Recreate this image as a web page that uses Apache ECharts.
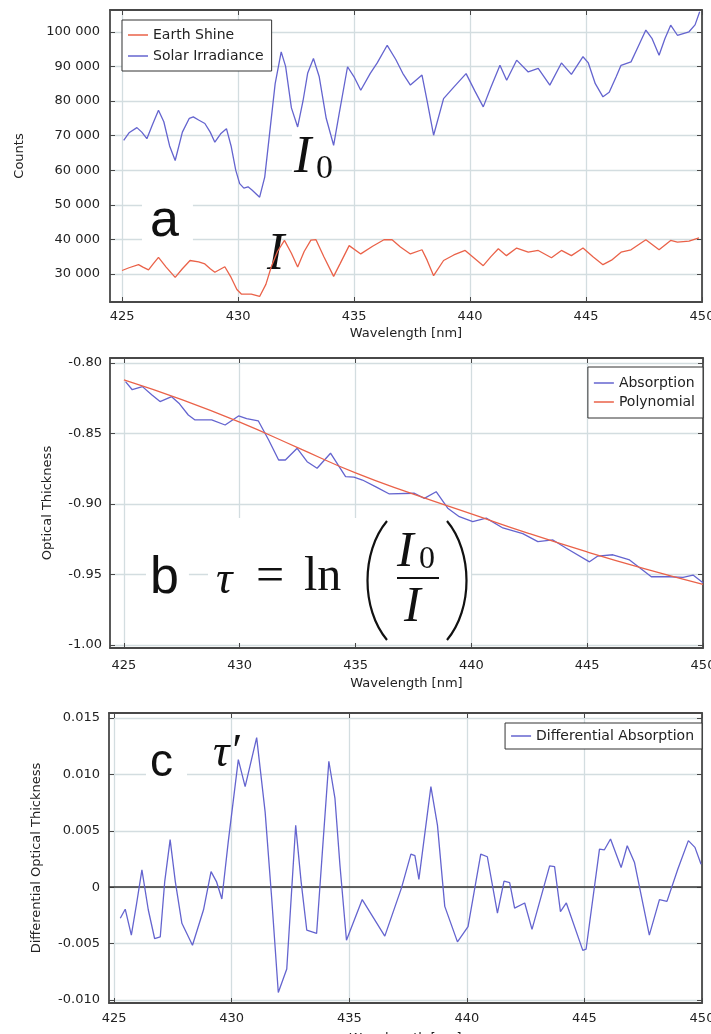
<!DOCTYPE html>
<html><head><meta charset="utf-8">
<script src="https://cdn.jsdelivr.net/npm/echarts@6/dist/echarts.min.js"></script>
<style>html,body{margin:0;padding:0;background:#fff}#c{width:711px;height:1034px}</style>
</head><body><div id="c"></div>
<script>
// ---- Panel a: counts ----
const wlSolar = [425.07,425.3,425.64,425.85,426.07,426.3,426.57,426.8,427.05,427.29,427.6,427.9,428.07,428.3,428.57,428.8,429.0,429.25,429.5,429.7,429.9,430.07,430.25,430.43,430.6,430.93,431.15,431.35,431.6,431.86,432.05,432.3,432.57,432.8,433.0,433.25,433.5,433.8,434.12,434.35,434.72,435.0,435.29,435.7,436.0,436.43,436.8,437.1,437.43,437.93,438.15,438.43,438.86,439.3,439.83,440.2,440.57,440.9,441.29,441.58,442.01,442.51,442.94,443.44,443.94,444.37,444.87,445.1,445.4,445.73,446.0,446.3,446.51,446.94,447.2,447.58,447.85,448.15,448.4,448.65,448.94,449.44,449.7,449.9];
const solar = [68600,70800,72300,71000,69100,73000,77300,74000,67000,62800,71000,75000,75400,74500,73500,71000,68100,70500,72000,67000,60000,56100,54800,55200,54300,52200,58000,70000,85000,94200,90000,78000,72500,80000,88000,92300,87000,75000,67200,76000,89900,87000,83100,88000,91000,96100,92000,88000,84600,87500,80000,70100,80700,84000,87900,83000,78300,84000,90300,86000,91800,88400,89400,84600,91000,87700,92800,91000,85000,81200,82500,87000,90300,91300,95000,100500,98000,93200,98000,101900,99000,100000,102000,105800];
const wlEarth = [425.0,425.3,425.71,425.9,426.14,426.35,426.57,426.9,427.29,427.6,427.93,428.3,428.57,428.8,429.0,429.43,429.7,429.95,430.14,430.57,430.93,431.2,431.43,431.7,432.0,432.3,432.57,432.85,433.14,433.36,433.7,434.12,434.4,434.79,435.29,435.8,436.29,436.64,437.0,437.43,437.93,438.15,438.43,438.86,439.3,439.79,440.2,440.57,440.9,441.22,441.57,442.01,442.51,442.94,443.51,443.94,444.37,444.87,445.3,445.73,446.1,446.51,446.94,447.58,448.15,448.65,448.94,449.44,449.87];
const earth = [31000,31800,32700,32000,31200,33000,34800,32000,29000,31500,33900,33500,32900,31500,30500,32100,29000,25500,24200,24200,23500,27000,32000,36500,39700,36000,32000,36500,39800,39900,35000,29300,33000,38200,35800,38000,39900,39900,37800,35800,37000,34000,29500,33900,35500,36800,34500,32400,35000,37300,35300,37500,36300,36800,34700,36800,35300,37500,35000,32700,34000,36300,37000,39900,37000,39700,39200,39500,40400];

// ---- Panel b: optical thickness ----
const wlAbs = [425.07,425.36,425.8,426.2,426.56,427.06,427.4,427.78,428.07,428.79,429.37,429.95,430.3,430.8,431.25,431.68,431.97,432.48,432.91,433.34,433.92,434.57,434.93,435.3,435.9,436.46,437.54,437.97,438.48,438.98,439.48,440.06,440.64,441.36,442.22,442.87,443.52,444.1,445.1,445.46,446.11,446.83,447.77,448.56,449.14,449.57,450.0];
const absorption = [-0.8132,-0.819,-0.8168,-0.8225,-0.8274,-0.8239,-0.829,-0.8369,-0.8404,-0.8404,-0.844,-0.8376,-0.8395,-0.841,-0.8546,-0.8688,-0.8688,-0.8605,-0.870,-0.8747,-0.864,-0.8806,-0.881,-0.883,-0.888,-0.8929,-0.8924,-0.896,-0.8913,-0.903,-0.909,-0.9125,-0.910,-0.917,-0.921,-0.9267,-0.9255,-0.9314,-0.941,-0.9369,-0.936,-0.9397,-0.9516,-0.9516,-0.952,-0.9504,-0.9558];
const wlPoly = [425,427.5,430,432.5,435,437.5,440,442.5,445,447.5,450];
const polynomial = [-0.812,-0.826,-0.842,-0.860,-0.878,-0.893,-0.907,-0.921,-0.934,-0.946,-0.957];

// ---- Panel c: differential optical thickness ----
const wlDiff = [425.26,425.47,425.73,425.95,426.18,426.45,426.72,426.96,427.15,427.38,427.6,427.88,428.33,428.8,429.12,429.35,429.58,429.85,430.28,430.57,431.06,431.42,431.7,431.98,432.34,432.72,432.95,433.19,433.61,433.85,434.13,434.39,434.6,434.88,435.55,435.95,436.51,437.22,437.62,437.79,437.96,438.47,438.75,439.06,439.6,440.05,440.59,440.87,441.3,441.58,441.82,442.03,442.46,442.77,443.52,443.73,443.98,444.23,444.93,445.07,445.64,445.85,446.11,446.56,446.82,447.13,447.76,448.19,448.51,448.97,449.42,449.7,449.96];
const differential = [-0.00275,-0.00195,-0.00425,-0.0015,0.00153,-0.002,-0.00455,-0.0044,0.0005,0.00422,0.0005,-0.0032,-0.00515,-0.002,0.00138,0.0005,-0.00105,0.004,0.01132,0.00892,0.01326,0.00668,-0.001,-0.00934,-0.00725,0.00548,0.0005,-0.0038,-0.0041,0.003,0.01117,0.00787,0.002,-0.0047,-0.0011,-0.00245,-0.00434,-0.00006,0.00293,0.0028,0.00069,0.00892,0.00548,-0.0017,-0.00485,-0.0035,0.00293,0.0027,-0.0023,0.00054,0.0004,-0.00186,-0.0014,-0.00374,0.00189,0.00183,-0.00216,-0.0014,-0.0056,-0.0055,0.00338,0.00332,0.00428,0.00174,0.00368,0.00219,-0.00425,-0.0011,-0.00126,0.00159,0.00413,0.00353,0.00204];

// ---- tick labels ----
const xTicks = [425,430,435,440,445,450];
const yTicksA = [30000,40000,50000,60000,70000,80000,90000,100000];
const yTicksB = [-1.00,-0.95,-0.90,-0.85,-0.80];
const yTicksC = [-0.010,-0.005,0,0.005,0.010,0.015];

const BLUE = '#6464cf', RED = '#ea6249', GRID = '#d3dde0', FRAME = '#484848';
const FONT = 'DejaVu Sans';
const zip = (a, b) => a.map((x, i) => [x, b[i]]);

const grids = [
  {left:110, top:10, width:592, height:292},
  {left:110, top:358, width:593, height:290},
  {left:109, top:713, width:593, height:290}
];
const xMin = [424.48, 424.4, 424.78];
const yRange = [[21900, 106300], [-1.0021, -0.7965], [-0.01027, 0.01545]];
const yTicks = [yTicksA, yTicksB, yTicksC];
const yFmt = [
  v => String(Math.round(v)).replace(/\B(?=(\d{3})+(?!\d))/g, ' '),
  v => Number(v).toFixed(2),
  v => (Math.abs(v) < 1e-9 ? '0' : Number(v).toFixed(3))
];
const yNames = ['Counts', 'Optical Thickness', 'Differential Optical Thickness'];
const yNameGap = [84, 56, 66];
const xLabelMargin = [8, 11, 9];
const xNameGap = [25, 29, 29];
const yLabelMargin = [10, 8, 9];

const txt = {color:'#222', fontSize:13, fontFamily:FONT};
const xAxis = [], yAxis = [];
for (let i = 0; i < 3; i++) {
  xAxis.push({
    type:'value', gridIndex:i, min:xMin[i], max:450, position:'bottom', z:2,
    axisLine:{show:true, onZero:false, lineStyle:{color:FRAME, width:1.8}},
    axisTick:{show:true, inside:true, length:5, customValues:xTicks, lineStyle:{color:FRAME}},
    axisLabel:{customValues:xTicks, margin:xLabelMargin[i], ...txt},
    splitLine:{show:true, lineStyle:{color:GRID, width:1.3}},
    name:'Wavelength [nm]', nameLocation:'middle', nameGap:xNameGap[i], nameTextStyle:{...txt}
  });
  xAxis.push({
    type:'value', gridIndex:i, min:xMin[i], max:450, position:'top', z:3,
    axisLine:{show:true, onZero:false, lineStyle:{color:FRAME, width:1.8}},
    axisTick:{show:true, inside:true, length:5, customValues:xTicks, lineStyle:{color:FRAME}},
    axisLabel:{show:false}, splitLine:{show:false}
  });
  yAxis.push({
    type:'value', gridIndex:i, min:yRange[i][0], max:yRange[i][1], position:'left', z:2,
    axisLine:{show:true, onZero:false, lineStyle:{color:FRAME, width:1.8}},
    axisTick:{show:true, inside:true, length:5, customValues:yTicks[i], lineStyle:{color:FRAME}},
    axisLabel:{customValues:yTicks[i], formatter:yFmt[i], margin:yLabelMargin[i], ...txt},
    splitLine:{show:true, lineStyle:{color:GRID, width:1.3}},
    name:yNames[i], nameLocation:'middle', nameGap:yNameGap[i], nameTextStyle:{...txt}
  });
  yAxis.push({
    type:'value', gridIndex:i, min:yRange[i][0], max:yRange[i][1], position:'right', z:3,
    axisLine:{show:true, onZero:false, lineStyle:{color:FRAME, width:1.8}},
    axisTick:{show:true, inside:true, length:5, customValues:yTicks[i], lineStyle:{color:FRAME}},
    axisLabel:{show:false}, splitLine:{show:false}
  });
}

const line = (name, data, color, gi, extra) => Object.assign({
  name, type:'line', data, xAxisIndex:2*gi, yAxisIndex:2*gi, symbol:'none', z:5,
  lineStyle:{color, width:1.3}, itemStyle:{color}, animation:false
}, extra || {});

const series = [
  line('Earth Shine', zip(wlEarth, earth), RED, 0),
  line('Solar Irradiance', zip(wlSolar, solar), BLUE, 0),
  line('Absorption', zip(wlAbs, absorption), BLUE, 1),
  line('Polynomial', zip(wlPoly, polynomial), RED, 1, {smooth:true}),
  line('Differential Absorption', zip(wlDiff, differential), BLUE, 2, {
    markLine:{silent:true, symbol:'none', label:{show:false}, animation:false,
      lineStyle:{color:'#333', width:1.5, type:'solid'}, data:[{yAxis:0}]}
  })
];

const legBase = {orient:'vertical', backgroundColor:'#fff', borderColor:'#333', borderWidth:1,
  icon:'rect', itemWidth:20, itemHeight:1.5, itemGap:7, padding:[8,8,8,6], z:10,
  textStyle:{color:'#222', fontSize:14, fontFamily:FONT}};
const legend = [
  Object.assign({}, legBase, {left:122, top:20, data:['Earth Shine','Solar Irradiance']}),
  Object.assign({}, legBase, {right:8, top:367, itemGap:5, padding:[9,8,9,6], data:['Absorption','Polynomial']}),
  Object.assign({}, legBase, {right:9, top:723, padding:[6,8,6,6], data:['Differential Absorption']})
];

const serifI = 'italic 52px "Liberation Serif"';
const graphic = [
  // panel a
  {type:'text', x:142, y:196, z:4, style:{text:'a', font:'52px "Liberation Sans"', fill:'#111', backgroundColor:'#fff', padding:[0,14,0,8]}},
  {type:'text', x:292, y:132, z:4, style:{text:'I', font:serifI, fill:'#111', backgroundColor:'#fff', padding:[0,20,0,2]}},
  {type:'text', x:316, y:152, z:4, style:{text:'0', font:'34px "Liberation Serif"', fill:'#111'}},
  {type:'text', x:267, y:229, z:4, style:{text:'I', font:serifI, fill:'#111'}},
  // panel b
  {type:'rect', z:4, shape:{x:208, y:518, width:263, height:125}, style:{fill:'#fff'}},
  {type:'text', x:146, y:553, z:4, style:{text:'b', font:'52px "Liberation Sans"', fill:'#111', backgroundColor:'#fff', padding:[0,10,0,4]}},
  {type:'text', x:216, y:558, z:4, style:{text:'\u03c4', font:'italic 46px "Liberation Serif"', fill:'#111'}},
  {type:'text', x:256, y:553, z:4, style:{text:'=', font:'50px "Liberation Serif"', fill:'#111'}},
  {type:'text', x:304, y:553, z:4, style:{text:'ln', font:'48px "Liberation Serif"', fill:'#111'}},
  {type:'bezierCurve', z:4, shape:{x1:387, y1:521, cpx1:361, cpy1:552, cpx2:361, cpy2:609, x2:387, y2:640}, style:{fill:null, stroke:'#111', lineWidth:2.2}},
  {type:'bezierCurve', z:4, shape:{x1:447, y1:521, cpx1:473, cpy1:552, cpx2:473, cpy2:609, x2:447, y2:640}, style:{fill:null, stroke:'#111', lineWidth:2.2}},
  {type:'text', x:397, y:528, z:4, style:{text:'I', font:'italic 50px "Liberation Serif"', fill:'#111'}},
  {type:'text', x:419, y:544, z:4, style:{text:'0', font:'32px "Liberation Serif"', fill:'#111'}},
  {type:'line', z:4, shape:{x1:397, y1:578, x2:439, y2:578}, style:{stroke:'#111', lineWidth:2}},
  {type:'text', x:404, y:583, z:4, style:{text:'I', font:'italic 50px "Liberation Serif"', fill:'#111'}},
  // panel c
  {type:'text', x:146, y:740, z:4, style:{text:'c', font:'46px "Liberation Sans"', fill:'#111', backgroundColor:'#fff', padding:[0,14,0,4]}},
  {type:'text', x:213, y:731, z:4, style:{text:'\u03c4\u2032', font:'italic 46px "Liberation Serif"', fill:'#111'}}
];

const chart = echarts.init(document.getElementById('c'), null, {renderer:'canvas'});
chart.setOption({
  animation:false, backgroundColor:'#fff',
  grid: grids.map(g => Object.assign({show:false, containLabel:false, outerBoundsMode:'none'}, g)),
  xAxis, yAxis, series, legend, graphic
});
</script>
</body></html>
